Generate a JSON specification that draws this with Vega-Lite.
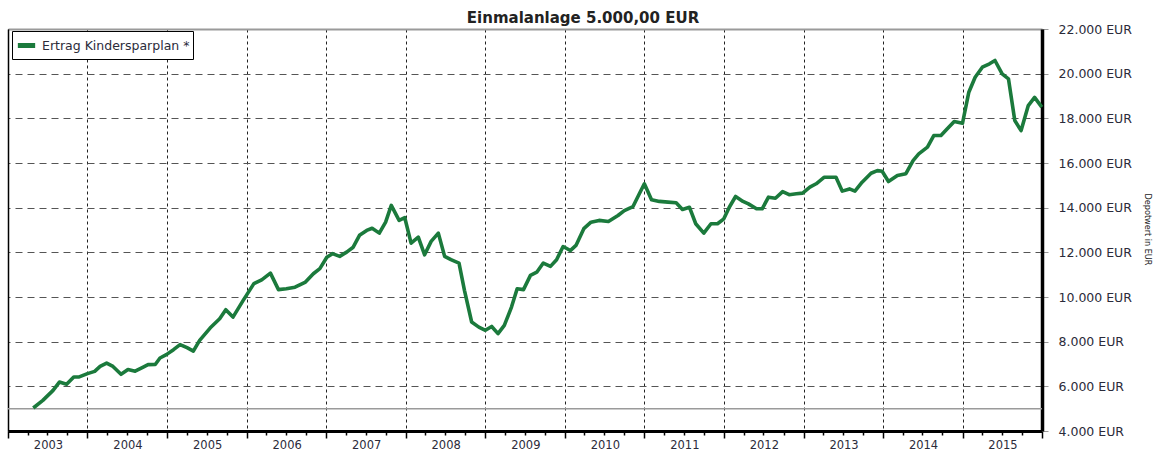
{
  "$schema": "https://vega.github.io/schema/vega-lite/v6.json",
  "width": 1034,
  "height": 402,
  "autosize": "none",
  "padding": {"left": 8, "top": 29, "right": 112, "bottom": 19},
  "background": "white",
  "config": {
    "view": {"stroke": null},
    "font": "DejaVu Sans"
  },
  "title": {
    "text": "Einmalanlage 5.000,00 EUR",
    "anchor": "middle",
    "frame": "group",
    "dx": 58,
    "dy": 22,
    "offset": 7,
    "baseline": "alphabetic",
    "font": "DejaVu Sans",
    "fontSize": 15,
    "fontWeight": "bold",
    "color": "#222"
  },
  "resolve": {"axis": {"y": "independent"}},
  "data": {
    "values": [
      {"d": "2003-04-27", "v": 5030}, {"d": "2003-06-10", "v": 5370}, {"d": "2003-07-27", "v": 5820},
      {"d": "2003-08-25", "v": 6190}, {"d": "2003-09-27", "v": 6090}, {"d": "2003-10-30", "v": 6420},
      {"d": "2003-11-24", "v": 6420}, {"d": "2004-01-01", "v": 6570}, {"d": "2004-02-03", "v": 6670},
      {"d": "2004-02-28", "v": 6890}, {"d": "2004-03-29", "v": 7040}, {"d": "2004-04-27", "v": 6890},
      {"d": "2004-06-03", "v": 6540}, {"d": "2004-07-05", "v": 6750}, {"d": "2004-08-07", "v": 6680},
      {"d": "2004-09-13", "v": 6860}, {"d": "2004-10-05", "v": 6970}, {"d": "2004-11-07", "v": 6980},
      {"d": "2004-11-29", "v": 7270}, {"d": "2004-12-28", "v": 7420}, {"d": "2005-01-30", "v": 7640},
      {"d": "2005-03-01", "v": 7870}, {"d": "2005-04-02", "v": 7730}, {"d": "2005-05-01", "v": 7580},
      {"d": "2005-05-30", "v": 8060}, {"d": "2005-07-17", "v": 8610}, {"d": "2005-08-30", "v": 9030},
      {"d": "2005-09-27", "v": 9430}, {"d": "2005-10-30", "v": 9100}, {"d": "2005-12-16", "v": 9850},
      {"d": "2006-02-03", "v": 10600}, {"d": "2006-03-11", "v": 10770}, {"d": "2006-04-20", "v": 11070},
      {"d": "2006-05-27", "v": 10330}, {"d": "2006-07-02", "v": 10370}, {"d": "2006-08-11", "v": 10440},
      {"d": "2006-09-28", "v": 10670}, {"d": "2006-11-03", "v": 11040}, {"d": "2006-12-03", "v": 11270},
      {"d": "2007-01-04", "v": 11780}, {"d": "2007-01-30", "v": 11940}, {"d": "2007-03-04", "v": 11820},
      {"d": "2007-04-05", "v": 12010}, {"d": "2007-05-05", "v": 12230}, {"d": "2007-06-03", "v": 12760},
      {"d": "2007-07-06", "v": 12980}, {"d": "2007-07-31", "v": 13080}, {"d": "2007-09-02", "v": 12860},
      {"d": "2007-10-01", "v": 13350}, {"d": "2007-10-27", "v": 14100}, {"d": "2007-12-02", "v": 13430},
      {"d": "2007-12-28", "v": 13550}, {"d": "2008-01-26", "v": 12410}, {"d": "2008-02-28", "v": 12680},
      {"d": "2008-03-28", "v": 11890}, {"d": "2008-04-27", "v": 12490}, {"d": "2008-05-30", "v": 12860},
      {"d": "2008-06-28", "v": 11820}, {"d": "2008-07-27", "v": 11670}, {"d": "2008-09-02", "v": 11520},
      {"d": "2008-09-27", "v": 10300}, {"d": "2008-10-30", "v": 8880}, {"d": "2008-12-02", "v": 8650},
      {"d": "2009-01-01", "v": 8510}, {"d": "2009-01-30", "v": 8680}, {"d": "2009-02-28", "v": 8360},
      {"d": "2009-03-29", "v": 8730}, {"d": "2009-05-01", "v": 9550}, {"d": "2009-05-27", "v": 10370},
      {"d": "2009-06-25", "v": 10330}, {"d": "2009-07-27", "v": 10970}, {"d": "2009-08-25", "v": 11110},
      {"d": "2009-09-24", "v": 11520}, {"d": "2009-10-27", "v": 11370}, {"d": "2009-11-24", "v": 11670},
      {"d": "2009-12-24", "v": 12260}, {"d": "2010-01-26", "v": 12080}, {"d": "2010-02-21", "v": 12310},
      {"d": "2010-03-29", "v": 13060}, {"d": "2010-05-01", "v": 13350}, {"d": "2010-06-07", "v": 13430},
      {"d": "2010-07-20", "v": 13380}, {"d": "2010-09-02", "v": 13650}, {"d": "2010-10-01", "v": 13870},
      {"d": "2010-11-10", "v": 14050}, {"d": "2010-12-09", "v": 14620}, {"d": "2011-01-01", "v": 15070},
      {"d": "2011-02-03", "v": 14350}, {"d": "2011-03-11", "v": 14280}, {"d": "2011-04-20", "v": 14250},
      {"d": "2011-05-27", "v": 14220}, {"d": "2011-06-25", "v": 13920}, {"d": "2011-07-27", "v": 14020},
      {"d": "2011-08-25", "v": 13280}, {"d": "2011-10-01", "v": 12860}, {"d": "2011-11-03", "v": 13280},
      {"d": "2011-12-03", "v": 13280}, {"d": "2012-01-01", "v": 13500}, {"d": "2012-01-26", "v": 14020},
      {"d": "2012-02-24", "v": 14500}, {"d": "2012-03-29", "v": 14280}, {"d": "2012-04-23", "v": 14170},
      {"d": "2012-05-30", "v": 13950}, {"d": "2012-06-25", "v": 13950}, {"d": "2012-07-24", "v": 14470},
      {"d": "2012-08-25", "v": 14420}, {"d": "2012-09-27", "v": 14720}, {"d": "2012-10-27", "v": 14580},
      {"d": "2012-11-29", "v": 14620}, {"d": "2012-12-28", "v": 14650}, {"d": "2013-01-30", "v": 14920},
      {"d": "2013-02-28", "v": 15070}, {"d": "2013-04-05", "v": 15360}, {"d": "2013-05-30", "v": 15360},
      {"d": "2013-06-28", "v": 14740}, {"d": "2013-07-31", "v": 14840}, {"d": "2013-08-25", "v": 14740},
      {"d": "2013-09-27", "v": 15140}, {"d": "2013-11-07", "v": 15540}, {"d": "2013-12-06", "v": 15660},
      {"d": "2013-12-28", "v": 15630}, {"d": "2014-01-26", "v": 15170}, {"d": "2014-03-08", "v": 15440},
      {"d": "2014-04-16", "v": 15520}, {"d": "2014-05-19", "v": 16110}, {"d": "2014-06-14", "v": 16410},
      {"d": "2014-07-24", "v": 16710}, {"d": "2014-08-22", "v": 17230}, {"d": "2014-09-24", "v": 17230},
      {"d": "2014-10-23", "v": 17530}, {"d": "2014-11-24", "v": 17860}, {"d": "2015-01-01", "v": 17780},
      {"d": "2015-01-30", "v": 19170}, {"d": "2015-02-28", "v": 19840}, {"d": "2015-04-02", "v": 20290},
      {"d": "2015-05-05", "v": 20440}, {"d": "2015-05-30", "v": 20590}, {"d": "2015-07-02", "v": 19990},
      {"d": "2015-07-31", "v": 19770}, {"d": "2015-08-29", "v": 17900}, {"d": "2015-09-27", "v": 17450},
      {"d": "2015-10-30", "v": 18570}, {"d": "2015-11-28", "v": 18940}, {"d": "2015-12-31", "v": 18500}
    ]
  },
  "layer": [
    {
      "data": {"values": [{"ref": 5000}]},
      "mark": {"type": "rule", "color": "#9a9a9a", "strokeWidth": 1.5},
      "encoding": {
        "y": {
          "field": "ref",
          "type": "quantitative",
          "scale": {"domain": [4000, 22000], "nice": false, "zero": false},
          "axis": {
            "orient": "left",
            "labels": false,
            "ticks": false,
            "grid": false,
            "title": null,
            "domainColor": "#000",
            "domainWidth": 1.5
          }
        }
      }
    },
    {
      "mark": {"type": "line", "strokeWidth": 3.6, "strokeJoin": "round"},
      "encoding": {
        "x": {
          "field": "d",
          "type": "temporal",
          "scale": {"domain": [{"year": 2003, "month": 1, "date": 1}, {"year": 2016, "month": 1, "date": 1}], "nice": false},
          "axis": {
            "title": null,
            "tickCount": {"interval": "month", "step": 3},
            "labelExpr": "month(datum.value) == 0 && year(datum.value) < 2016 ? timeFormat(datum.value, '%Y') : ''",
            "labelOffset": 40,
            "labelOverlap": false,
            "labelFlush": false,
            "labelBound": false,
            "labelFont": "DejaVu Sans",
            "labelFontSize": 11.5,
            "labelColor": "#2b2b3a",
            "labelPadding": 1,
            "domainColor": "#000",
            "domainWidth": 3,
            "tickColor": "#000",
            "tickWidth": 1.5,
            "tickSize": {"condition": {"test": "month(datum.value) == 0", "value": 7}, "value": 4},
            "grid": true,
            "gridColor": "#222",
            "gridDash": [3, 3],
            "gridWidth": 1,
            "gridOpacity": {"condition": {"test": "month(datum.value) == 0", "value": 1}, "value": 0}
          }
        },
        "y": {
          "field": "v",
          "type": "quantitative",
          "scale": {"domain": [4000, 22000], "nice": false, "zero": false},
          "axis": {
            "orient": "right",
            "values": [4000, 6000, 8000, 10000, 12000, 14000, 16000, 18000, 20000, 22000],
            "labelExpr": "replace(format(datum.value, ','), ',', '.') + ' EUR'",
            "labelFont": "DejaVu Sans",
            "labelFontSize": 12.5,
            "labelColor": "#2b2b3a",
            "labelPadding": 10,
            "domainColor": "#000",
            "domainWidth": 3.5,
            "tickColor": "#999",
            "tickSize": 6,
            "grid": true,
            "gridColor": {"condition": {"test": "datum.value == 22000", "value": "#9a9a9a"}, "value": "#555"},
            "gridDash": {"condition": {"test": "datum.value == 22000", "value": []}, "value": [7, 5]},
            "gridWidth": {"condition": {"test": "datum.value == 22000", "value": 2}, "value": 1},
            "title": "Depotwert in EUR",
            "titleFont": "Liberation Sans Narrow, DejaVu Sans Condensed, DejaVu Sans",
            "titleFontSize": 9,
            "titleFontWeight": "normal",
            "titleColor": "#222",
            "titleAngle": 90,
            "titleX": 105,
            "titleY": 200,
            "titleAlign": "center",
            "titleBaseline": "middle"
          }
        },
        "color": {
          "datum": "Ertrag Kindersparplan *",
          "type": "nominal",
          "scale": {"range": ["#1b7a3c"]},
          "legend": {
            "title": null,
            "orient": "none",
            "legendX": 4,
            "legendY": 2,
            "symbolType": "stroke",
            "symbolStrokeWidth": 5,
            "symbolSize": 300,
            "labelFont": "DejaVu Sans",
            "labelFontSize": 12.5,
            "labelColor": "#2b2b3a",
            "fillColor": "white",
            "strokeColor": "#000",
            "padding": 3
          }
        }
      }
    }
  ]
}
